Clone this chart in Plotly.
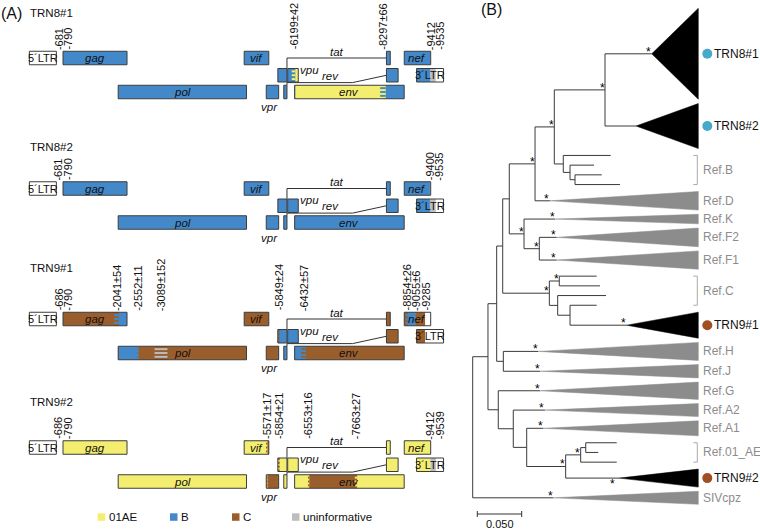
import plotly.graph_objects as go

# ================= Panel A data (HXB2 coordinates) =================
GENOME_NAMES = ["TRN8#1", "TRN8#2", "TRN9#1", "TRN9#2"]

GENE_LABELS = ["gag", "pol", "vif", "vpr", "tat", "rev", "vpu", "env", "tat", "rev", "nef"]
GENE_START = [790, 2085, 5041, 5559, 5831, 5970, 6062, 6225, 8379, 8379, 8797]
GENE_END = [2292, 5096, 5619, 5850, 6045, 6045, 6310, 8795, 8469, 8653, 9417]
GENE_FRAME = [1, 3, 1, 3, 2, 3, 2, 3, 1, 2, 1]

LTR_LABELS = ["5´LTR", "3´LTR"]
LTR_START = [1, 9086]
LTR_END = [634, 9719]
LTR_FRAME = [1, 2]

GAG_START = 790

TRN8_1_BREAKS = [681, 6199, 8297, 9412, 9535]
TRN8_1_CI = [0, 42, 66, 0, 0]
TRN8_1_SUBTYPES = ["B", "01AE", "B", "uninformative"]

TRN8_2_BREAKS = [681, 9400, 9535]
TRN8_2_CI = [0, 0, 0]
TRN8_2_SUBTYPES = ["B", "uninformative"]

TRN9_1_BREAKS = [686, 2041, 2552, 3089, 5849, 6432, 8854, 9055, 9285]
TRN9_1_CI = [0, 54, 11, 152, 24, 57, 26, 6, 0]
TRN9_1_SUBTYPES = ["C", "B", "C", "C", "B", "C", "B", "C"]

TRN9_2_BREAKS = [686, 5571, 5854, 6553, 7663, 9412, 9539]
TRN9_2_CI = [0, 17, 21, 16, 27, 0, 0]
TRN9_2_SUBTYPES = ["01AE", "C", "01AE", "C", "01AE", "uninformative"]

LEGEND_SUBTYPES = ["01AE", "B", "C", "uninformative"]

# ================= Panel B data (tree) =================
NODE_NAMES = ["root", "n1", "n2", "n3", "n4", "n5", "n6", "n7", "TRN8#1", "TRN8#2",
              "n8", "B1", "n9", "B2", "n10", "B3", "B4", "Ref.D", "n11", "Ref.K",
              "n12", "Ref.F2", "Ref.F1", "n13", "n14", "C1", "C2", "n15", "C3", "n16",
              "C4", "TRN9#1", "n17", "Ref.H", "Ref.J", "n18", "Ref.G", "n19", "Ref.A2", "n20",
              "Ref.A1", "n21", "n22", "n23", "AE1", "AE2", "AE3", "TRN9#2", "SIVcpz"]
NODE_PARENT = [None, "root", "n1", "n2", "n3", "n4", "n5", "n6", "n7", "n7",
               "n6", "n8", "n8", "n9", "n9", "n10", "n10", "n5", "n4", "n11",
               "n11", "n12", "n12", "n3", "n13", "n14", "n14", "n13", "n15", "n15",
               "n16", "n16", "n2", "n17", "n17", "n1", "n18", "n18", "n19", "n19",
               "n20", "n20", "n21", "n22", "n23", "n23", "n22", "n21", "root"]
BRANCH_LENGTH = [0.0, 0.0172, 0.0098, 0.0068, 0.0074, 0.0290, 0.0217, 0.0571, 0.0526, 0.0349,
                 0.0101, 0.0534, 0.0076, 0.0270, 0.0056, 0.0301, 0.0507, 0.0168, 0.0166, 0.0349,
                 0.0172, 0.0196, 0.0196, 0.0525, 0.0112, 0.0421, 0.0459, 0.0094, 0.0544, 0.0139,
                 0.0300, 0.0638, 0.0075, 0.0394, 0.0413, 0.0116, 0.0470, 0.0169, 0.0357, 0.0151,
                 0.0187, 0.0439, 0.0169, 0.0057, 0.0349, 0.0141, 0.0406, 0.0601, 0.0908]

SUPPORTED_NODES = ["TRN8#1", "n7", "n6", "n5", "Ref.D", "n11", "Ref.K", "n12", "Ref.F2",
                   "Ref.F1", "n14", "n13", "TRN9#1", "Ref.H", "Ref.J", "Ref.G", "Ref.A2",
                   "Ref.A1", "n22", "n21", "TRN9#2", "SIVcpz"]

COLLAPSED_TIPS = ["TRN8#1", "TRN8#2", "Ref.D", "Ref.K", "Ref.F2", "Ref.F1", "TRN9#1",
                  "Ref.H", "Ref.J", "Ref.G", "Ref.A2", "Ref.A1", "TRN9#2", "SIVcpz"]
COLLAPSED_BREADTH = [91, 45, 18.6, 9.5, 18.7, 18.3, 26, 18, 13.3, 17.3, 13, 15, 18, 13]

QUERY_TIPS = ["TRN8#1", "TRN8#2", "TRN9#1", "TRN9#2"]
QUERY_PAIR = ["TRN8", "TRN8", "TRN9", "TRN9"]

GROUP_LABELS = ["Ref.B", "Ref.C", "Ref.01_AE"]
GROUP_MEMBERS = [["B1", "B2", "B3", "B4"], ["C1", "C2", "C3", "C4"], ["AE1", "AE2", "AE3"]]

SCALE_BAR = 0.05

# ================= styles / layout constants =================
W, H = 760, 529
FONT = "Liberation Sans, Arial, Helvetica, sans-serif"
SUBTYPE_COLOR = {"01AE": "#F3EE6F", "B": "#4389C9", "C": "#9A5E2C", "uninformative": "#BDBDBD"}
PAIR_COLOR = {"TRN8": "#46A9C9", "TRN9": "#A04E22"}
OUTLINE = "#3C3C3C"
REF_GRAY = "#8C8C8C"

A_NT_PER_PX = 23.463
A_X_AT_PX0 = -688.2


def a_x(px):
    return A_X_AT_PX0 + px * A_NT_PER_PX


B_UNIT_PER_PX = 1 / 888.0
B_X_AT_PX0 = -472.7 / 888.0


def b_x(px):
    return B_X_AT_PX0 + px * B_UNIT_PER_PX


ROW1_Y = [58, 188.5, 319, 447.5]
TITLE_Y = [13.3, 146.7, 268.3, 402.3]
ROW_OFFSET = {1: 0.0, 2: 17.25, 3: 34.0}
ROW_H = 13.5

shapes = []
annos = []
traces = []


def rect(x0, x1, y0, y1, fill, line=None, xref="x", lw=1.0):
    shapes.append(dict(type="rect", xref=xref, yref="y", x0=x0, x1=x1, y0=y0, y1=y1,
                       fillcolor=fill,
                       line=dict(color=line if line else "rgba(0,0,0,0)", width=lw if line else 0),
                       layer="above"))


def text(x, y, s, size=11, color="#111", xref="x", xanchor="center", yanchor="middle",
         angle=0, xshift=0, yshift=0):
    annos.append(dict(x=x, y=y, xref=xref, yref="y", text=s, showarrow=False,
                      font=dict(family=FONT, size=size, color=color), xanchor=xanchor,
                      yanchor=yanchor, textangle=angle, borderpad=0, xshift=xshift,
                      yshift=yshift))


# ================= Panel A drawing =================
genomes = [(TRN8_1_BREAKS, TRN8_1_CI, TRN8_1_SUBTYPES),
           (TRN8_2_BREAKS, TRN8_2_CI, TRN8_2_SUBTYPES),
           (TRN9_1_BREAKS, TRN9_1_CI, TRN9_1_SUBTYPES),
           (TRN9_2_BREAKS, TRN9_2_CI, TRN9_2_SUBTYPES)]

boxes = [(s, e, f) for s, e, f in zip(GENE_START, GENE_END, GENE_FRAME)] + \
        [(s, e, f) for s, e, f in zip(LTR_START, LTR_END, LTR_FRAME)]

line_x, line_y = [], []
for g, (breaks, ci, subs) in enumerate(genomes):
    base = ROW1_Y[g]
    segs = [(breaks[i], breaks[i + 1], subs[i]) for i in range(len(subs))]
    bands = []
    for i in range(1, len(breaks) - 1):
        if ci[i] > 0:
            left, right = subs[i - 1], subs[i]
            stripe = right if right != left else "uninformative"
            bands.append((breaks[i] - ci[i], breaks[i] + ci[i], left, stripe))
    for (s, e, f) in boxes:
        yc = base + ROW_OFFSET[f]
        y0, y1 = yc - ROW_H / 2, yc + ROW_H / 2
        rect(s, e, y0, y1, "white")
        for (a, b, st) in segs:
            lo, hi = max(s, a), min(e, b)
            if lo < hi:
                rect(lo, hi, y0, y1, SUBTYPE_COLOR[st])
        for (a, b, cl, cs) in bands:
            lo, hi = max(s, a), min(e, b)
            if lo < hi:
                rect(lo, hi, y0, y1, SUBTYPE_COLOR[cl])
                hh = ROW_H / 7
                for k in (1, 3, 5):
                    rect(lo, hi, y0 + k * hh, y0 + (k + 1) * hh, SUBTYPE_COLOR[cs])
        rect(s, e, y0, y1, "rgba(0,0,0,0)", line=OUTLINE, lw=1)

    # exon connectors (tat / rev)
    tat1_end = GENE_END[4]
    tat2_start = GENE_START[8]
    rev2_start = GENE_START[9]
    r1, r2, r3 = base, base + ROW_OFFSET[2], base + ROW_OFFSET[3]
    line_x += [tat1_end, tat1_end, tat2_start, None]
    line_y += [r2 - ROW_H / 2, r1, r1, None]
    kink = tat1_end + 0.66 * (rev2_start - tat1_end)
    line_x += [tat1_end, tat1_end, kink, rev2_start, None]
    line_y += [r3 - ROW_H / 2, r2 + ROW_H / 2 + 0.6, r2 + ROW_H / 2 + 0.6, r2, None]

    # gene labels
    for lbl, s, e, f in zip(GENE_LABELS, GENE_START, GENE_END, GENE_FRAME):
        yc = base + ROW_OFFSET[f]
        if lbl in ("gag", "pol", "vif", "env", "nef"):
            text((s + e) / 2, yc, f"<i>{lbl}</i>", size=11.5)
    vpu_i = GENE_LABELS.index("vpu")
    text(GENE_END[vpu_i], r2 - 5.5, "<i>vpu</i>", size=11.5, xanchor="left", xshift=1)
    vpr_i = GENE_LABELS.index("vpr")
    text((GENE_START[vpr_i] + GENE_END[vpr_i]) / 2, r3 + 15, "<i>vpr</i>", size=11.5, xshift=-3)
    text((tat1_end + tat2_start) / 2, r1 - 6.5, "<i>tat</i>", size=11.5)
    text((tat1_end + rev2_start) / 2 - 150, r2 + 0.5, "<i>rev</i>", size=11.5)
    for lbl, s, e, f in zip(LTR_LABELS, LTR_START, LTR_END, LTR_FRAME):
        text((s + e) / 2, base + ROW_OFFSET[f], lbl, size=11)

    # breakpoint labels (rotated), spread apart if too close
    ticks = sorted(set(list(zip(breaks, ci)) + [(GAG_START, 0)]))
    min_gap = 9.5 * A_NT_PER_PX
    prev = -1e9
    for pos, c in ticks:
        lx = max(pos, prev + min_gap)
        prev = lx
        s = f"-{pos}" + (f"±{c}" if c else "")
        text(lx, r1 - ROW_H / 2 - 0.5, s, size=11, angle=-90, yanchor="bottom")

    # title
    text(LTR_START[0], TITLE_Y[g], GENOME_NAMES[g], size=11.5, xanchor="left")

traces.append(go.Scatter(x=line_x, y=line_y, mode="lines", xaxis="x", yaxis="y",
                         line=dict(color="#333", width=1), hoverinfo="skip"))

# legend
LEGEND_PX = [97.7, 170, 232, 292]
for st, px in zip(LEGEND_SUBTYPES, LEGEND_PX):
    rect(a_x(px), a_x(px + 7.5), 513.3, 520.8, SUBTYPE_COLOR[st])
    text(a_x(px + 10), 517, st, size=11.5, xanchor="left")

text(a_x(0), 13, "(A)", size=16, xanchor="left")

# ================= Panel B drawing =================
children = {n: [] for n in NODE_NAMES}
for n, p in zip(NODE_NAMES, NODE_PARENT):
    if p is not None:
        children[p].append(n)

nx = {}
for n, p, bl in zip(NODE_NAMES, NODE_PARENT, BRANCH_LENGTH):
    nx[n] = bl if p is None else nx[p] + bl

breadth = dict(zip(COLLAPSED_TIPS, COLLAPSED_BREADTH))
LEAF_BREADTH = 5.5
GAP = 4.2
ny = {}
cursor = [8.3]


def place(n):
    if not children[n]:
        b = breadth.get(n, LEAF_BREADTH)
        ny[n] = cursor[0] + b / 2
        cursor[0] += b + GAP
    else:
        for c in children[n]:
            place(c)
        ny[n] = (ny[children[n][0]] + ny[children[n][-1]]) / 2


place("root")

bx, by = [], []
for n, p in zip(NODE_NAMES, NODE_PARENT):
    if p is not None:
        bx += [nx[p], nx[n], None]
        by += [ny[n], ny[n], None]
    if children[n]:
        bx += [nx[n], nx[n], None]
        by += [ny[children[n][0]], ny[children[n][-1]], None]
traces.append(go.Scatter(x=bx, y=by, mode="lines", xaxis="x2", yaxis="y",
                         line=dict(color="#3a3a3a", width=1), hoverinfo="skip"))

tri_right = b_x(698.3)
for group_color, members in (("#000000", [t for t in COLLAPSED_TIPS if t in QUERY_TIPS]),
                             (REF_GRAY, [t for t in COLLAPSED_TIPS if t not in QUERY_TIPS])):
    tx, ty = [], []
    for t in members:
        half = breadth[t] / 2
        tx += [nx[t], tri_right, tri_right, nx[t], None]
        ty += [ny[t], ny[t] - half, ny[t] + half, ny[t], None]
    traces.append(go.Scatter(x=tx, y=ty, mode="lines", fill="toself", fillcolor=group_color,
                             xaxis="x2", yaxis="y", line=dict(color=group_color, width=0.5),
                             hoverinfo="skip"))

# support stars
for n in SUPPORTED_NODES:
    if n == "TRN9#2":
        text(nx[n] - 7 * B_UNIT_PER_PX, ny[n] + 6, "*", size=12, color="#000", xref="x2")
    else:
        text(nx[n] - 3 * B_UNIT_PER_PX, ny[n], "*", size=12, color="#000", xref="x2", yshift=2)

# tip labels
for t in COLLAPSED_TIPS:
    if t in QUERY_TIPS:
        pair = QUERY_PAIR[QUERY_TIPS.index(t)]
        traces.append(go.Scatter(x=[b_x(707.3)], y=[ny[t]], mode="markers", xaxis="x2", yaxis="y",
                                 marker=dict(size=10, color=PAIR_COLOR[pair]), hoverinfo="skip"))
        text(b_x(712.7), ny[t], t, size=12, xref="x2", xanchor="left")
    else:
        text(b_x(701.7), ny[t], t, size=12, color=REF_GRAY, xref="x2", xanchor="left")

for lbl, mem in zip(GROUP_LABELS, GROUP_MEMBERS):
    y0, y1 = ny[mem[0]], ny[mem[-1]]
    xa, xb = b_x(693.3), b_x(697.3)
    traces.append(go.Scatter(x=[xa, xb, xb, xa], y=[y0, y0, y1, y1], mode="lines", xaxis="x2",
                             yaxis="y", line=dict(color="#AAAAAA", width=1), hoverinfo="skip"))
    text(b_x(701.7), (y0 + y1) / 2, lbl, size=12, color=REF_GRAY, xref="x2", xanchor="left")

# scale bar
sb0 = b_x(477.3)
traces.append(go.Scatter(x=[sb0, sb0, None, sb0, sb0 + SCALE_BAR, None, sb0 + SCALE_BAR, sb0 + SCALE_BAR],
                         y=[511, 517, None, 514, 514, None, 511, 517], mode="lines",
                         xaxis="x2", yaxis="y", line=dict(color="#333", width=1), hoverinfo="skip"))
text(sb0 + SCALE_BAR / 2, 524, f"{SCALE_BAR:.3f}", size=11, xref="x2")

text(b_x(480), 9, "(B)", size=16, xref="x2", xanchor="left")

fig = go.Figure(traces)
fig.update_layout(
    width=W, height=H, margin=dict(l=0, r=0, t=0, b=0),
    paper_bgcolor="white", plot_bgcolor="white", showlegend=False,
    xaxis=dict(domain=[0, 1], range=[a_x(0), a_x(W)], visible=False, fixedrange=True),
    xaxis2=dict(domain=[0, 1], range=[b_x(0), b_x(W)], visible=False, overlaying="x",
                anchor="y", fixedrange=True),
    yaxis=dict(domain=[0, 1], range=[H, 0], visible=False, fixedrange=True),
    shapes=shapes, annotations=annos,
)
fig.write_html("out.html", post_script="document.body.style.margin='0';",
               config={"displayModeBar": False})
